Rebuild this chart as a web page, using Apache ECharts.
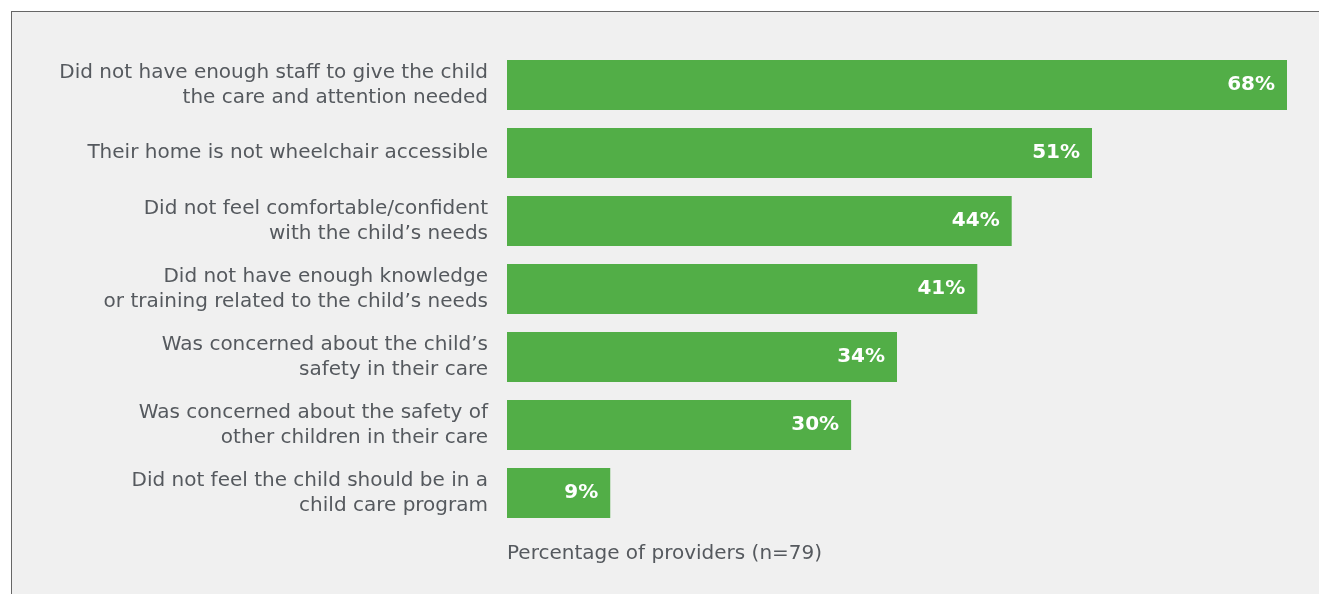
<!DOCTYPE html>
<html>
<head>
<meta charset="utf-8">
<script src="https://cdn.jsdelivr.net/npm/echarts@6/dist/echarts.min.js"></script>
<style>
  html, body { margin: 0; padding: 0; background: #ffffff; }
  #frame { position: absolute; left: 11px; top: 11px; width: 1308px; height: 583px;
           background: #f0f0f0; border-left: 1px solid #666; border-top: 1px solid #666; box-sizing: border-box; }
  #chart { position: absolute; left: 0; top: 0; width: 1319px; height: 594px; }
</style>
</head>
<body>
<div id="frame"></div>
<div id="chart"></div>
<script>
// Reasons providers gave for not enrolling the child, top to bottom
const categories = [
  'Did not have enough staff to give the child\nthe care and attention needed',
  'Their home is not wheelchair accessible',
  'Did not feel comfortable/confident\nwith the child\u2019s needs',
  'Did not have enough knowledge\nor training related to the child\u2019s needs',
  'Was concerned about the child\u2019s\nsafety in their care',
  'Was concerned about the safety of\nother children in their care',
  'Did not feel the child should be in a\nchild care program'
];
const percentages = [68, 51, 44, 41, 34, 30, 9];
const axisTitle = 'Percentage of providers (n=79)';

const chart = echarts.init(document.getElementById('chart'), null, { renderer: 'canvas' });
const fontFamily = '"DejaVu Sans", "Open Sans", sans-serif';

chart.setOption({
  backgroundColor: 'transparent',
  animation: false,
  title: {
    text: axisTitle,
    left: 502,
    top: 539,
    textStyle: { color: '#55595e', fontSize: 20, fontWeight: 'normal', fontFamily: fontFamily }
  },
  grid: { left: 507, right: 32, top: 51, bottom: 67, containLabel: false },
  xAxis: {
    type: 'value', min: 0, max: 68,
    show: false
  },
  yAxis: {
    type: 'category',
    inverse: true,
    data: categories,
    axisLine: { show: false },
    axisTick: { show: false },
    axisLabel: {
      margin: 19,
      align: 'right',
      color: '#55595e',
      fontSize: 20,
      lineHeight: 25,
      fontFamily: fontFamily
    }
  },
  series: [{
    type: 'bar',
    data: percentages,
    barWidth: 50,
    itemStyle: { color: '#52ae47' },
    label: {
      show: true,
      position: 'insideRight',
      distance: 12,
      formatter: p => p.value + '%',
      color: '#ffffff',
      fontSize: 20,
      fontWeight: 'bold',
      fontFamily: fontFamily
    }
  }]
});
</script>
</body>
</html>
